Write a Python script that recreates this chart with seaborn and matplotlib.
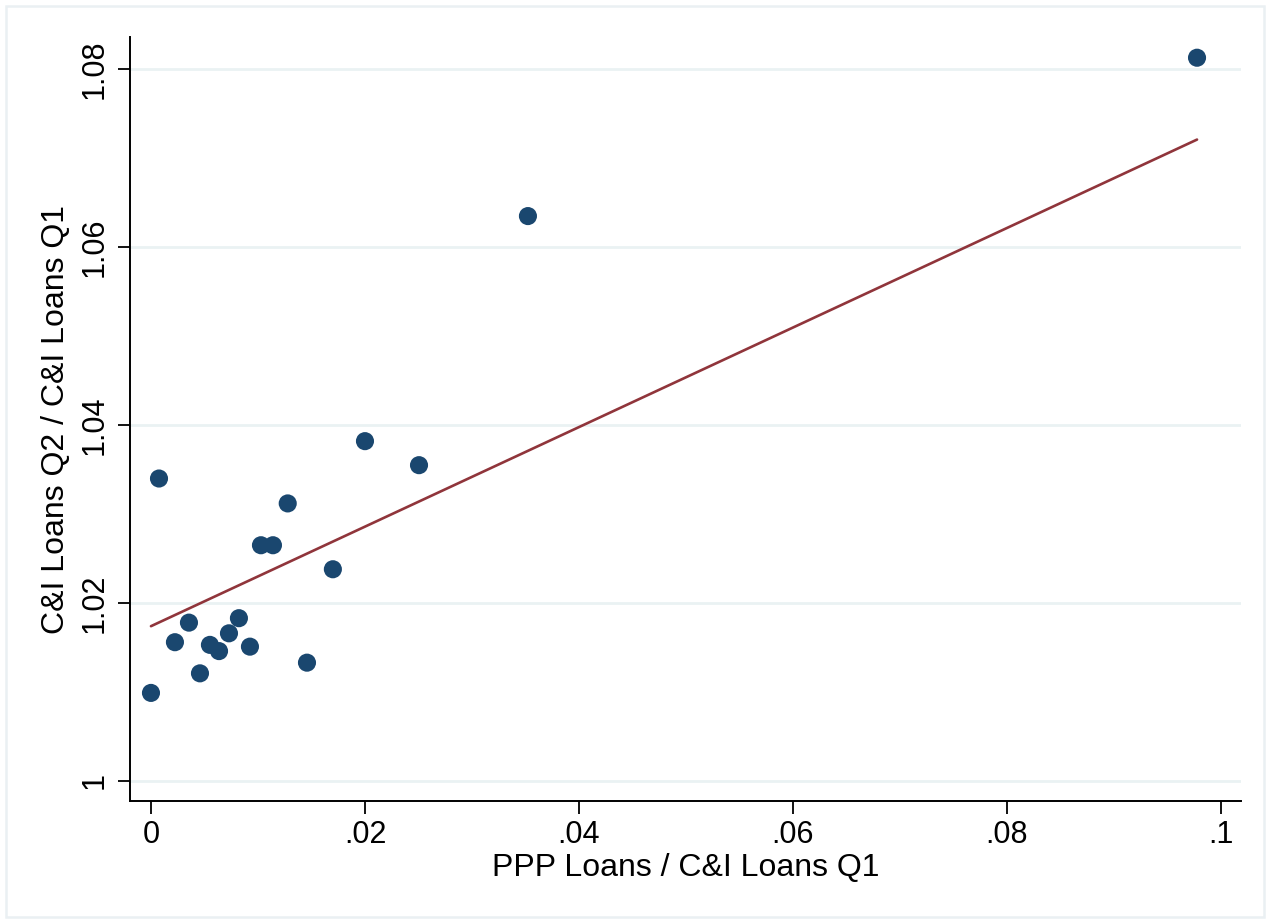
import numpy as np
import pandas as pd
import matplotlib
matplotlib.use("Agg")
import matplotlib.pyplot as plt
from matplotlib.patches import Rectangle
import seaborn as sns

# Data (binned scatter)
ppp_ratio = [0.0000, 0.00075, 0.00224, 0.00355, 0.00458, 0.00551, 0.00636, 0.00729,
             0.00822, 0.00925, 0.01028, 0.01140, 0.01278, 0.01458, 0.01700, 0.02000,
             0.02505, 0.03523, 0.09776]
ci_ratio = [1.0099, 1.0340, 1.0156, 1.0178, 1.0121, 1.0153, 1.0146, 1.0166,
            1.0183, 1.0151, 1.0265, 1.0265, 1.0312, 1.0133, 1.0238, 1.0382,
            1.0355, 1.0635, 1.0813]
# Fitted line (estimated on underlying data), endpoints
fit_x = [0.0, 0.09776]
fit_y = [1.0174, 1.0721]
x_ticks = [0, 0.02, 0.04, 0.06, 0.08, 0.1]
x_tick_labels = ["0", ".02", ".04", ".06", ".08", ".1"]
y_ticks = [1.0, 1.02, 1.04, 1.06, 1.08]
y_tick_labels = ["1", "1.02", "1.04", "1.06", "1.08"]
x_label = "PPP Loans / C&I Loans Q1"
y_label = "C&I Loans Q2 / C&I Loans Q1"

df = pd.DataFrame({"ppp": ppp_ratio, "ci": ci_ratio})
fit_df = pd.DataFrame({"ppp": fit_x, "ci": fit_y})

sns.set_style("white")
plt.rcParams["font.family"] = ["Liberation Sans", "DejaVu Sans"]

W, H = 1270, 923
fig = plt.figure(figsize=(W / 100, H / 100), dpi=100)
fig.patch.set_facecolor("white")
ax = fig.add_axes([130 / W, 1 - 801 / H, (1241 - 130) / W, (801 - 37) / H])

grid_color = "#EAF2F3"
for yv in y_ticks:
    ax.axhline(yv, color=grid_color, lw=2.0, zorder=0)

sns.lineplot(data=fit_df, x="ppp", y="ci", ax=ax, color="#90353B", lw=1.9, zorder=2)
sns.scatterplot(data=df, x="ppp", y="ci", ax=ax, color="#1A476F", s=170,
                edgecolor="none", linewidth=0, zorder=3)

ax.set_xlim(-0.00196, 0.10187)
ax.set_ylim(0.99775, 1.08363)
ax.set_xticks(x_ticks)
ax.set_xticklabels(x_tick_labels)
ax.set_yticks(y_ticks)
ax.set_yticklabels(y_tick_labels, rotation=90, va="center")
ax.tick_params(axis="both", which="major", direction="out", length=9, width=1.3,
               color="black", labelsize=22, labelcolor="black", left=True, bottom=True)
ax.tick_params(axis="x", pad=5)
ax.tick_params(axis="y", pad=6)
ax.set_xlabel(x_label, fontsize=23, color="black", labelpad=2)
ax.set_ylabel(y_label, fontsize=23, color="black", labelpad=6)

for s in ["top", "right"]:
    ax.spines[s].set_visible(False)
for s in ["left", "bottom"]:
    ax.spines[s].set_color("black")
    ax.spines[s].set_linewidth(1.4)
ax.grid(False)

fig.patches.append(Rectangle((6 / W, 6 / H), (1264 - 6) / W, (917 - 6) / H,
                             transform=fig.transFigure, fill=False,
                             edgecolor="#EAF0F3", lw=1.8, zorder=0))

fig.savefig("out.png", dpi=100, facecolor="white")
